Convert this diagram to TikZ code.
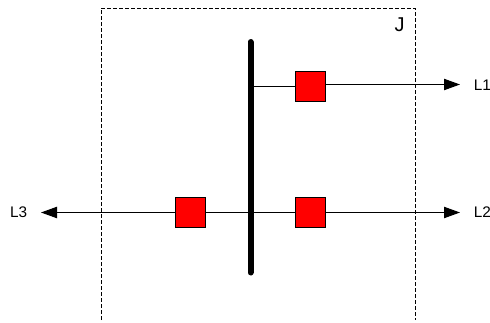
\documentclass[tikz,border=0pt]{standalone}
\usepackage{fontspec}
\setmainfont{Liberation Sans}
\usetikzlibrary{arrows.meta}
\tikzset{
	breaker/.style={draw=black,fill=red,line width=.75pt,minimum size=22.5pt,inner sep=0pt},
	lbl/.style={inner sep=0pt,font=\fontsize{11.5pt}{13pt}\selectfont},
	feeder/.style={line width=.75pt,-{Triangle[length=12pt,width=8.5pt]}}
}
\begin{document}
\begin{tikzpicture}[x=.75pt,y=-.75pt]
	\useasboundingbox (0,0) rectangle (490,322);

	\coordinate (Ja) at (101,320);
	\coordinate (Jb) at (101,8);
	\coordinate (Jc) at (415,8);
	\coordinate (Jd) at (415,320);
	\draw[dash pattern=on 3pt off 1.5pt,line width=.6pt] (Ja) -- (Jb) -- (Jc) -- (Jd);
	\node[lbl,font=\fontsize{15pt}{16pt}\selectfont] (J) at (399.5,25) {J};

	\node[breaker] (S1) at (310,86.7) {};
	\node[breaker] (S2) at (310,212.5) {};
	\node[breaker] (S3) at (190.5,212.5) {};

	\coordinate (A1) at (460,84.5);
	\coordinate (A2) at (460,212.5);
	\coordinate (A3) at (41,212.5);
	\node[lbl,anchor=west] (L1) at (473.5,85) {L1};
	\node[lbl,anchor=west] (L2) at (473.5,212.5) {L2};
	\node[lbl,anchor=east] (L3) at (27.5,212.5) {L3};

	\coordinate (B1) at (250.5,86.7);
	\coordinate (B2) at (250.5,212.5);
	\coordinate (Bt) at (250.5,42);
	\coordinate (Bb) at (250.5,272.5);

	\draw[line width=.75pt] (B1) -- (S1);
	\draw[feeder] (S1.east |- A1) -- (A1);
	\draw[feeder] (S2) -- (A2);
	\draw[line width=.75pt] (B2) -- (S2);
	\draw[line width=.75pt] (B2) -- (S3);
	\draw[feeder] (S3) -- (A3);
	\draw[line width=4.5pt,line cap=round] (Bt) -- (Bb);
\end{tikzpicture}
\end{document}
